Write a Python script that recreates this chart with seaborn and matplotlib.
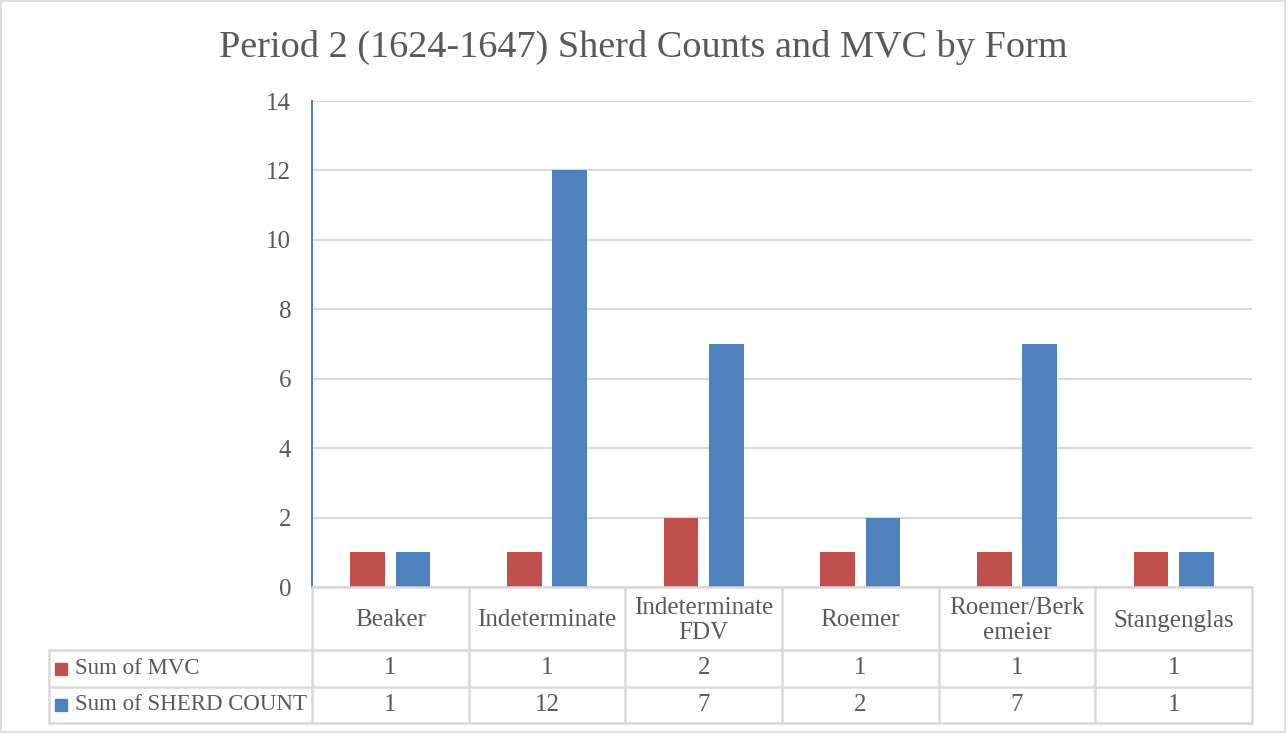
import pandas as pd
import matplotlib.pyplot as plt
import seaborn as sns
from matplotlib.lines import Line2D
from matplotlib.patches import Rectangle

# data
forms = ['Beaker', 'Indeterminate', 'Indeterminate\nFDV', 'Roemer', 'Roemer/Berk\nemeier', 'Stangenglas']
mvc = [1, 1, 2, 1, 1, 1]
sherd_count = [1, 12, 7, 2, 7, 1]
series_names = ['Sum of MVC', 'Sum of SHERD COUNT']
colors = ['#C0504D', '#4F81BD']

df = pd.DataFrame({
    'Form': forms * 2,
    'Value': mvc + sherd_count,
    'Series': [series_names[0]] * len(forms) + [series_names[1]] * len(forms),
})

sns.set_style('white')
plt.rcParams['font.family'] = ['Liberation Serif', 'DejaVu Serif']
text_col = '#595959'
grid_col = '#D9D9D9'

W, H = 1287, 733
fig = plt.figure(figsize=(W / 100, H / 100), dpi=100)


def fx(x):
    return x / W


def fy(y):
    return 1 - y / H


# plot area in pixels
L, R, T, B = 312, 1252, 101, 587
ax = fig.add_axes([fx(L), fy(B), fx(R - L), (B - T) / H])

sns.barplot(data=df, x='Form', y='Value', hue='Series', palette=colors,
            width=0.577, gap=0.23, ax=ax, legend=False, saturation=1,
            linewidth=0)

ax.set_xlim(-0.5, len(forms) - 0.5)
ax.set_ylim(0, 14)
ax.set_yticks(range(0, 15, 2))
ax.yaxis.grid(True, color=grid_col, linewidth=1.5)
ax.set_axisbelow(True)
ax.set_xticks([])
ax.set_xlabel('')
ax.set_ylabel('')
ax.tick_params(axis='y', length=0, labelsize=18, labelcolor=text_col, pad=15)
for s in ['top', 'right', 'bottom']:
    ax.spines[s].set_visible(False)
ax.spines['left'].set_color('#4F81BD')
ax.spines['left'].set_linewidth(1.5)

fig.text(fx(643), fy(47), 'Period 2 (1624-1647) Sherd Counts and MVC by Form',
         ha='center', va='center', fontsize=27.5, color=text_col)

# data table below the axis
cell_w = (R - L) / len(forms)
xs = [L + i * cell_w for i in range(len(forms) + 1)]
leg_left = 49
row_y = [587, 650, 687, 723]


def hline(x0, x1, y):
    fig.add_artist(Line2D([fx(x0), fx(x1)], [fy(y), fy(y)], color=grid_col, lw=1.8))


def vline(x, y0, y1):
    fig.add_artist(Line2D([fx(x), fx(x)], [fy(y0), fy(y1)], color=grid_col, lw=1.8))


hline(L, R, row_y[0])
for y in row_y[1:]:
    hline(leg_left, R, y)
for x in xs:
    vline(x, row_y[0], row_y[3])
vline(leg_left, row_y[1], row_y[3])

for i, f in enumerate(forms):
    cx = (xs[i] + xs[i + 1]) / 2
    fig.text(fx(cx), fy((row_y[0] + row_y[1]) / 2 + 2), f, ha='center', va='center',
             fontsize=18, color=text_col, linespacing=1.22)
    fig.text(fx(cx), fy((row_y[1] + row_y[2]) / 2), str(mvc[i]), ha='center',
             va='center', fontsize=18, color=text_col)
    fig.text(fx(cx), fy((row_y[2] + row_y[3]) / 2), str(sherd_count[i]), ha='center',
             va='center', fontsize=18, color=text_col)

for j, name in enumerate(series_names):
    yc = (row_y[j + 1] + row_y[j + 2]) / 2
    fig.add_artist(Rectangle((fx(55), fy(yc + 6)), fx(12), 12 / H, color=colors[j]))
    fig.text(fx(75), fy(yc), name, ha='left', va='center', fontsize=16.5, color=text_col)

# chart border
fig.add_artist(Rectangle((fx(1), fy(732)), fx(1284), 731 / H, fill=False,
                         edgecolor=grid_col, lw=1.2))

plt.savefig('out.png', dpi=100)
